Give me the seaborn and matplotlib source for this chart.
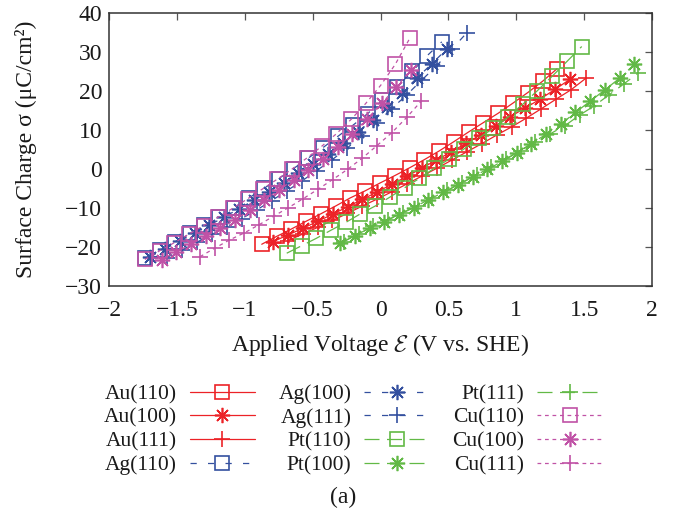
import matplotlib
matplotlib.use("Agg")
import matplotlib.pyplot as plt
import seaborn as sns
import pandas as pd

# ---- surface charge vs applied voltage, per metal facet ----
au110_E = [-0.875, -0.766, -0.657, -0.548, -0.440, -0.331, -0.222, -0.113, -0.004, 0.105, 0.214,
           0.323, 0.431, 0.540, 0.649, 0.758, 0.867, 0.976, 1.085, 1.194, 1.300]
au110_sigma = [-19.3, -17.3, -15.4, -13.4, -11.5, -9.5, -7.4, -5.6, -3.6, -1.7, 0.3,
               2.4, 4.6, 7.0, 9.5, 11.9, 14.3, 16.9, 19.6, 22.5, 25.7]

au100_E = [-0.790, -0.681, -0.571, -0.462, -0.353, -0.243, -0.134, -0.025, 0.084, 0.194, 0.303,
           0.412, 0.522, 0.631, 0.740, 0.850, 0.954, 1.065, 1.175, 1.285, 1.396]
au100_sigma = [-18.6, -16.9, -15.2, -13.4, -11.6, -9.7, -7.8, -5.9, -3.9, -1.9, 0.2,
               2.3, 4.4, 6.6, 8.8, 11.1, 13.4, 15.6, 17.9, 20.4, 23.0]

au111_E = [-0.684, -0.574, -0.464, -0.354, -0.244, -0.134, -0.024, 0.086, 0.196, 0.306, 0.416,
           0.526, 0.636, 0.746, 0.856, 0.966, 1.072, 1.182, 1.293, 1.403, 1.514]
au111_sigma = [-18.4, -16.7, -15.0, -13.2, -11.4, -9.5, -7.7, -5.8, -3.8, -1.8, 0.2,
               2.3, 4.4, 6.5, 8.7, 10.8, 13.0, 15.4, 17.9, 20.3, 23.3]

ag110_E = [-1.734, -1.625, -1.515, -1.406, -1.297, -1.188, -1.078, -0.969, -0.860, -0.751, -0.641,
           -0.532, -0.423, -0.313, -0.204, -0.095, 0.014, 0.123, 0.233, 0.342, 0.451]
ag110_sigma = [-22.9, -20.8, -18.7, -16.5, -14.4, -12.2, -9.9, -7.4, -5.0, -2.5, 0.1,
               2.8, 5.5, 8.4, 11.2, 14.2, 17.6, 21.1, 25.0, 29.0, 32.6]

ag100_E = [-1.697, -1.588, -1.479, -1.369, -1.260, -1.151, -1.042, -0.933, -0.823, -0.714, -0.605,
           -0.496, -0.387, -0.277, -0.168, -0.059, 0.050, 0.159, 0.268, 0.378, 0.487]
ag100_sigma = [-22.5, -20.5, -18.5, -16.4, -14.4, -12.3, -10.2, -8.0, -5.8, -3.5, -1.1,
               1.3, 3.9, 6.6, 9.5, 12.6, 16.0, 19.6, 23.3, 27.0, 30.7]

ag111_E = [-1.575, -1.464, -1.354, -1.243, -1.133, -1.022, -0.912, -0.801, -0.691, -0.580, -0.470,
           -0.359, -0.249, -0.138, -0.028, 0.083, 0.193, 0.304, 0.414, 0.525, 0.635]
ag111_sigma = [-22.7, -20.8, -18.8, -16.8, -14.8, -12.7, -10.5, -8.1, -5.6, -3.1, -0.4,
               2.3, 5.3, 8.4, 11.8, 15.5, 19.0, 22.8, 26.5, 30.7, 34.9]

pt110_E = [-0.691, -0.582, -0.474, -0.365, -0.256, -0.148, -0.039, 0.070, 0.178, 0.287, 0.396,
           0.504, 0.613, 0.722, 0.830, 0.939, 1.048, 1.156, 1.265, 1.374, 1.482]
pt110_sigma = [-21.6, -19.7, -17.8, -15.7, -13.7, -11.5, -9.5, -7.2, -4.8, -2.4, 0.2,
               2.5, 5.1, 7.9, 10.4, 13.3, 16.6, 20.1, 23.8, 27.6, 31.4]

pt100_E = [-0.298, -0.190, -0.081, 0.027, 0.136, 0.244, 0.352, 0.461, 0.569, 0.678, 0.786,
           0.894, 1.003, 1.111, 1.220, 1.328, 1.436, 1.545, 1.653, 1.762, 1.870]
pt100_sigma = [-19.1, -17.1, -15.2, -13.5, -11.7, -9.9, -7.9, -6.0, -4.1, -2.0, -0.1,
               2.0, 4.2, 6.5, 8.9, 11.5, 14.5, 17.4, 20.3, 23.3, 26.8]

pt111_E = [-0.270, -0.162, -0.053, 0.056, 0.164, 0.273, 0.381, 0.490, 0.598, 0.707, 0.815,
           0.924, 1.032, 1.141, 1.249, 1.358, 1.466, 1.575, 1.683, 1.792, 1.900]
pt111_sigma = [-18.6, -16.6, -14.7, -13.0, -11.2, -9.4, -7.4, -5.5, -3.6, -1.5, 0.4,
               2.5, 4.7, 6.9, 9.0, 11.1, 13.8, 16.2, 19.0, 21.8, 24.7]

cu110_E = [-1.736, -1.628, -1.519, -1.411, -1.302, -1.194, -1.085, -0.977, -0.868, -0.760,
           -0.651, -0.543, -0.434, -0.326, -0.217, -0.109, 0.000, 0.108, 0.217]
cu110_sigma = [-23.2, -21.0, -18.9, -16.7, -14.5, -12.3, -10.0, -7.6, -5.1, -2.6,
               0.0, 2.8, 5.8, 9.0, 12.7, 16.8, 21.4, 26.8, 33.6]

cu100_E = [-1.612, -1.504, -1.396, -1.288, -1.180, -1.072, -0.964, -0.856, -0.748,
           -0.640, -0.532, -0.424, -0.316, -0.208, -0.100, 0.008, 0.116, 0.224]
cu100_sigma = [-23.3, -21.2, -19.3, -17.3, -15.2, -13.0, -10.6, -8.0, -5.4,
               -2.7, -0.2, 2.6, 5.6, 9.0, 12.8, 16.8, 21.0, 25.5]

cu111_E = [-1.330, -1.221, -1.113, -1.004, -0.895, -0.787, -0.678, -0.569,
           -0.461, -0.352, -0.243, -0.134, -0.026, 0.083, 0.192, 0.300]
cu111_sigma = [-22.5, -20.3, -18.2, -16.4, -14.3, -12.1, -9.9, -7.6,
               -5.2, -2.7, -0.1, 2.8, 6.0, 9.3, 13.2, 17.4]

labels = ["Au(110)", "Au(100)", "Au(111)", "Ag(110)", "Ag(100)", "Ag(111)",
          "Pt(110)", "Pt(100)", "Pt(111)", "Cu(110)", "Cu(100)", "Cu(111)"]
series_E = [au110_E, au100_E, au111_E, ag110_E, ag100_E, ag111_E,
            pt110_E, pt100_E, pt111_E, cu110_E, cu100_E, cu111_E]
series_sigma = [au110_sigma, au100_sigma, au111_sigma, ag110_sigma, ag100_sigma, ag111_sigma,
                pt110_sigma, pt100_sigma, pt111_sigma, cu110_sigma, cu100_sigma, cu111_sigma]

x_ticks = [-2, -1.5, -1, -0.5, 0, 0.5, 1, 1.5, 2]
y_ticks = [-30, -20, -10, 0, 10, 20, 30, 40]

# ---- styling per metal / facet ----
metal_color = {"Au": "#ec2227", "Ag": "#34509f", "Pt": "#62b946", "Cu": "#c052a6"}
metal_dash = {"Au": "-", "Ag": (0, (5, 9)), "Pt": (0, (12, 6)), "Cu": (0, (3, 3))}
facet_marker = {"110": "s", "100": (8, 2, 0), "111": "+"}
facet_size = {"110": 10, "100": 11, "111": 11.5}

sns.set_theme(style="white")
plt.rcParams["font.family"] = ["Liberation Serif", "DejaVu Serif"]
plt.rcParams["mathtext.fontset"] = "cm"
plt.rcParams["axes.unicode_minus"] = True

fig = plt.figure(figsize=(6.75, 5.15), dpi=100)
ax = fig.add_axes([0.1615, 0.4447, 0.8045, 0.5301])

frames = []
for lab, xs, ys in zip(labels, series_E, series_sigma):
    frames.append(pd.DataFrame({"E": xs, "sigma": ys, "surface": lab}))
data = pd.concat(frames, ignore_index=True)

for lab in labels:
    metal, facet = lab[:2], lab[3:6]
    sub = data[data["surface"] == lab]
    sns.lineplot(data=sub, x="E", y="sigma", ax=ax, sort=False, estimator=None,
                 color=metal_color[metal], linestyle=metal_dash[metal], linewidth=0.9,
                 marker=facet_marker[facet], markersize=facet_size[facet],
                 markerfacecolor="none", markeredgecolor=metal_color[metal],
                 markeredgewidth=1.2, label=lab, legend=False)

ax.set_xlim(-2, 2)
ax.set_ylim(-30, 40)
ax.set_xticks(x_ticks)
ax.set_yticks(y_ticks)
ax.set_xticklabels([f"{t:g}".replace("-", "\u2212") for t in x_ticks])
ax.set_yticklabels([f"{t:g}".replace("-", "\u2212") for t in y_ticks])
ax.tick_params(direction="in", length=5, width=0.9, color="#555555",
               top=True, right=True, labelsize=17, labelcolor="#1a1a1a")
ax.tick_params(axis="x", pad=10)
ax.tick_params(axis="y", pad=5)
for sp in ax.spines.values():
    sp.set_color("#333333")
    sp.set_linewidth(1.1)

ax.set_xlabel(r"Applied Voltage $\mathcal{E}$ (V vs. SHE)", fontsize=17, labelpad=8, color="#1a1a1a")
ax.set_ylabel("Surface Charge \u03c3 (\u03bcC/cm\u00b2)", fontsize=17, labelpad=20, color="#1a1a1a")

handles = ax.get_lines()
leg = fig.legend(handles, labels, ncol=3, markerfirst=False, frameon=False,
                 loc="upper center", bbox_to_anchor=(0.523, 0.292),
                 fontsize=15.5, handlelength=3.0, handletextpad=0.6,
                 columnspacing=1.1, labelspacing=0.17, numpoints=1)
for t in leg.get_texts():
    t.set_color("#1a1a1a")

fig.text(0.508, 0.035, "(a)", ha="center", va="center", fontsize=17, color="#1a1a1a")

fig.savefig("out.png", dpi=100)
